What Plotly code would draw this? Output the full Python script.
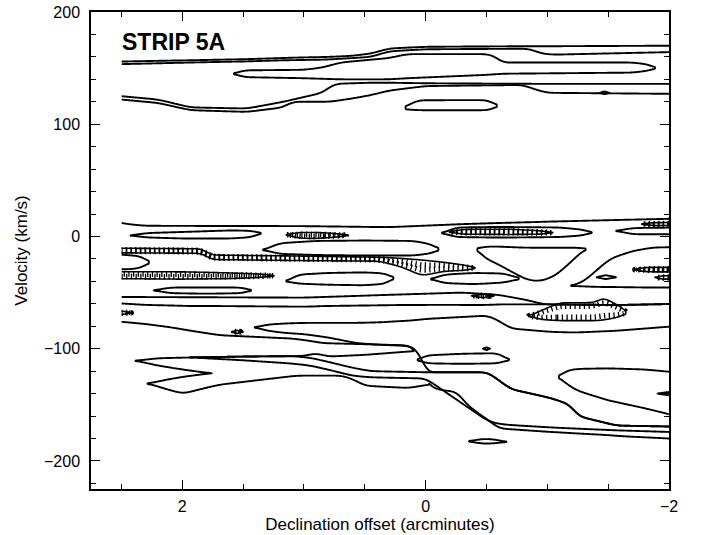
import numpy as np
import plotly.graph_objects as go

# ---------------- axis / data extent ----------------
X_RANGE = [2.75, -2.0]          # declination offset (arcmin), reversed
Y_RANGE = [-225, 200]           # velocity (km/s)
DATA_X = (-2.0, 2.5)            # extent of the mapped strip
X_TICKS = [2, 0, -2]
Y_TICKS = [-200, -100, 0, 100, 200]

# ---------------- emission features (read from the map) ----------------
# each feature: list of parts; part = x nodes, upper and lower velocity edge
band_a_outer = [dict(x=[2.6, 2.2, 1.93, 1.47, 1.17, 1.1, 0.79, 0.6, 0.45, 0.3, 0.0, -0.8, -0.9, -1.0, -2.1],
                     top=[155.6, 156.5, 157, 158, 159, 159.3, 160, 161, 163, 167.5, 169, 169.5, 169.5, 169.5, 170],
                     bot=[123, 119, 112.5, 111, 115, 120, 120, 123, 126, 130, 134, 135, 131, 128, 127])]
band_a_inner = [dict(x=[2.6, 2.2, 1.93, 1.47, 1.17, 0.85, 0.75, 0.45, 0.3, 0.0, -0.85, -0.95, -1.05, -2.1],
                     top=[153.3, 154.3, 155, 156, 157, 157.5, 158, 160, 165, 166.8, 167.3, 163, 162, 164.5],
                     bot=[126, 122, 115, 114, 120, 128, 136, 137, 137, 136.5, 136, 136, 136, 136])]
band_a_loop = [dict(x=[1.57, 1.5, 1.0, 0.85, 0.7, 0.3, 0.15, -0.5, -0.57, -0.62, -1.7, -1.85, -1.88],
                    top=[145, 148, 148.5, 150.5, 155, 159, 162.5, 162.5, 161, 155, 155, 153, 150],
                    bot=[145, 142, 141, 140.5, 140, 140, 141, 144, 144.5, 145, 146, 148, 150])]
band_a_box = [dict(x=[0.16, 0.12, 0.05, -0.5, -0.55, -0.58],
                   top=[115, 119, 121.4, 121.5, 120, 116.5],
                   bot=[113.5, 112.8, 112.5, 112.5, 113, 116.5])]
band_a_dot = [dict(x=[-1.43, -1.47, -1.51], top=[128, 129.2, 128], bot=[128, 126.8, 128])]

main_env = [dict(x=[2.6, 2.45, 2.3, 1.0, 0.3, -0.3, -0.6, -0.85, -0.95, -1.0, -1.5, -1.62, -2.1],
                 top=[14.3, 11, 9.5, 9.2, 8.3, 11, 12, 12.7, 13, 13.2, 14.5, 14.8, 16],
                 bot=[-54, -54, -54, -54.5, -52, -50, -52, -57, -60, -60.5, -61, -61, -60])]
main_s2 = [dict(x=[2.42, 2.3, 2.0, 1.6, 1.42, 1.36], top=[0.9, 3, 4, 5.4, 5, 3], bot=[0.9, -0.8, -1.8, -1.8, -0.5, 3])]
main_ring = [dict(x=[-0.14, -0.25, -0.6, -1.1, -1.3, -1.36], top=[3, 8, 8.5, 8, 6, 3.5], bot=[3, -0.5, -1, -0.5, 1, 3.5])]
main_right_oval = [dict(x=[-1.57, -1.7, -2.1], top=[5, 7.5, 8], bot=[5, 2, 2])]
main_s4 = [dict(x=[1.33, 1.2, 0.9, 0.5, 0.1, -0.05, -0.1], top=[-12, -6, -4, -3.6, -4, -7, -11],
                bot=[-12, -15.5, -16.5, -17, -17, -15, -12])]
main_left_lobe = [dict(x=[2.6, 2.4, 2.32, 2.28], top=[-15.5, -17, -18, -23], bot=[-29.5, -29, -27.5, -23])]
main_s5a = [dict(x=[1.14, 1.05, 0.8, 0.5, 0.32, 0.27], top=[-40, -34, -32.5, -32, -33, -37],
                 bot=[-40, -42, -43, -43.5, -42, -37])]
main_s5b = [dict(x=[-0.05, -0.15, -0.4, -0.65, -0.76], top=[-38, -34, -32.5, -33, -37],
                 bot=[-38, -41.5, -42.5, -41, -38])]
main_s6 = [dict(x=[2.23, 2.1, 1.8, 1.5, 1.44], top=[-48, -45.5, -45.5, -45.5, -48], bot=[-48, -50.5, -51, -50.5, -48])]
main_bowl = [dict(x=[-0.43, -0.46, -0.5, -0.6, -0.7, -0.82, -0.92, -1.0, -1.06, -1.12, -1.2, -1.27, -1.31],
                  top=[-11, -9.5, -9, -9, -9.5, -10, -10, -10, -10, -10, -10, -10, -11],
                  bot=[-11, -17, -20, -25, -31, -38, -40, -38, -35, -30, -22, -15, -11])]
main_right_lobe = [dict(x=[-1.2, -1.3, -1.43, -1.52, -1.7, -1.87, -2.1],
                        top=[-44, -40, -27.7, -19.6, -13, -9.8, -9.5],
                        bot=[-44, -44.5, -45, -45, -45.3, -45.5, -45.5])]
main_s7 = [dict(x=[-1.4, -1.48, -1.57], top=[-36.3, -34.5, -36.3], bot=[-36.3, -38, -36.3])]

# diagonal ridges of the lower complex
ridge_d1_x = [1.93, 1.5, 1.1, 0.95, 0.79, 0.6, 0.45, 0.0, -0.51, -0.6, -0.7, -1.03, -1.19, -1.25, -1.57, -2.1]
ridge_d1_v = [-107.8, -107, -106.6, -108, -112, -117, -120, -121, -121, -128, -136, -144, -150, -160, -168.5, -169.5]
ridge_d2_x = [1.93, 1.6, 1.28, 0.95, 0.68, 0.57, 0.45, 0.0, -0.15, -0.25, -0.35, -0.45, -0.55, -0.7, -1.0, -1.5, -2.1]
ridge_d2_v = [-107.8, -110, -111, -115, -121.6, -125, -125.5, -126.5, -133, -143, -153, -161, -166.5, -168, -170, -172.5, -174.5]

low_outer = [dict(x=[2.6, 2.3, 2.09, 1.93, 1.69, 1.09, 0.95, 0.85, 0.5, 0.15, 0.08, 0.0, -0.08, -0.28, -0.3,
                     -0.4, -0.52, -0.6, -1.0, -1.5, -1.62, -2.1],
                  top=[-59, -61, -61.5, -62, -62, -62.5, -62.5, -62, -61.5, -61, -61, -61, -61, -61, -61,
                       -61, -61, -60.5, -60.5, -61, -61, -60],
                  bot=[-75, -78, -81, -84, -88, -91, -93, -95, -96, -97, -100, -130, -136, -139, -146,
                       -155, -164, -171, -174, -177, -178, -180.5]),
             dict(x=[2.38, 2.2, 2.0, 1.79, 1.5, 1.0, 0.9, 0.8, 0.5, 0.08, -0.02],
                  top=[-110.7, -108.5, -108, -107.5, -107, -106.5, -104, -107, -105.5, -102, -102],
                  bot=[-110.7, -115, -118.5, -121.6, -122, -122, -122, -122, -122, -122, -122]),
             dict(x=[2.28, 2.1, 1.99, 1.85, 1.69, 1.06, 0.68, 0.57, 0.5, 0.14, -0.02],
                  top=[-131, -127, -125, -123, -121, -119, -118, -118, -115, -115, -118],
                  bot=[-131, -137, -140, -136, -132, -124, -124, -128.6, -133, -135, -132])]
low_mid = [dict(x=[1.4, 1.3, 1.15, 1.0, 0.8, 0.57, 0.38, 0.14, 0.08, 0.04] + ridge_d1_x[7:],
                top=[-81, -78.5, -77.5, -77, -77, -77, -76.5, -75, -74.5, -74, -73.5, -70.5, -75, -82,
                     -85, -85.5, -85.5, -84, -79.5],
                bot=[-81, -84, -86, -87, -90, -95, -96.5, -97.5, -99.5, -106] + ridge_d1_v[7:])]
low_diag = [dict(x=ridge_d1_x, top=ridge_d1_v,
                 bot=np.interp(ridge_d1_x[::-1], ridge_d2_x[::-1], ridge_d2_v[::-1])[::-1].tolist())]
low_ellipse = [dict(x=[0.06, 0.0, -0.3, -0.6, -0.68], top=[-110, -106, -104.5, -104, -110], bot=[-110, -113, -113.5, -113, -110])]
low_dot = [dict(x=[-0.47, -0.5, -0.53], top=[-100, -98.8, -100], bot=[-100, -101.2, -100])]
low_right_loop = [dict(x=[-1.1, -1.15, -1.25, -1.5, -1.8, -2.1], top=[-125, -119.5, -118, -117.5, -118.5, -121.5],
                       bot=[-125, -131, -137.5, -146, -153, -161])]
low_right_edge = [dict(x=[-1.9, -2.0, -2.1], top=[-140, -138.5, -138.5], bot=[-140, -141.5, -141.5])]
low_bottom = [dict(x=[-0.36, -0.45, -0.55, -0.66], top=[-182.5, -180.5, -180.5, -183], bot=[-182.5, -184.5, -184.5, -183])]

# negative (hatched) contours
neg_h1 = [dict(x=[2.6, 1.82, 1.78, 1.0, 0.38, 0.2, 0.03, -0.15, -0.35, -0.4],
               top=[-10.4, -11, -16.5, -17.5, -18.5, -19.5, -21, -23, -26, -28],
               bot=[-14.5, -15, -20.5, -21.5, -22, -27, -35, -31, -30, -28])]
neg_h2 = [dict(x=[2.6, 2.0, 1.6, 1.35, 1.25], top=[-31.5, -31.5, -32.5, -33.5, -35], bot=[-37.5, -38, -37.5, -36.5, -35])]
neg_h3 = [dict(x=[1.14, 1.05, 0.9, 0.72, 0.64], top=[1.5, 3.6, 3.6, 2.5, 1], bot=[1.5, -1.5, -1.8, -0.5, 1])]
neg_h4 = [dict(x=[-0.2, -0.3, -0.7, -0.95, -1.04], top=[4, 6.3, 6.5, 5, 3.5], bot=[4, 2, 1.8, 2, 3.5])]
neg_edge_top = [dict(x=[-1.78, -1.85, -2.1], top=[11, 12.3, 12.5], bot=[11, 9.8, 9.8])]
neg_h5 = [dict(x=[-1.72, -1.8, -2.1], top=[-29.5, -27.5, -27.5], bot=[-29.5, -31.5, -31.5])]
neg_h5b = [dict(x=[-1.88, -1.95, -2.1], top=[-36.5, -35, -35], bot=[-36.5, -38, -38])]
neg_h6 = [dict(x=[-0.85, -0.95, -1.1, -1.4, -1.47, -1.52, -1.6, -1.64],
               top=[-71, -66, -59, -59, -53, -59, -61, -68],
               bot=[-71, -74, -75, -75, -74.5, -73, -72, -68])]
neg_h7 = [dict(x=[-0.37, -0.47, -0.57], top=[-53, -51.5, -53], bot=[-53, -54.5, -53])]
neg_left = [dict(x=[2.6, 2.5, 2.4], top=[-66.5, -66.5, -68], bot=[-69.5, -69.5, -68])]
neg_h8 = [dict(x=[1.6, 1.55, 1.5], top=[-85, -83.6, -85], bot=[-85, -86.4, -85])]

POSITIVE = [band_a_outer, band_a_inner, band_a_loop, band_a_box, band_a_dot,
            main_env, main_s2, main_ring, main_right_oval, main_s4, main_left_lobe,
            main_s5a, main_s5b, main_s6, main_bowl, main_right_lobe, main_s7,
            low_outer, low_mid, low_diag, low_ellipse, low_dot, low_right_loop,
            low_right_edge, low_bottom]
NEGATIVE = [neg_h1, neg_h2, neg_h3, neg_h4, neg_edge_top, neg_h5, neg_h5b, neg_h6,
            neg_h7, neg_left, neg_h8]

PX_PER_KMS = 477 / (Y_RANGE[1] - Y_RANGE[0])


def smooth(arr, n=5):
    if n <= 1 or len(arr) < 3:
        return arr
    k = np.exp(-0.5 * (np.arange(-2 * n, 2 * n + 1) / n) ** 2)
    k /= k.sum()
    pad = np.pad(arr, 2 * n, mode="edge")
    return np.convolve(pad, k, mode="valid")


def feature_grid(parts, dx=0.01, dv=0.35):
    xs_all = np.concatenate([np.asarray(p["x"], float) for p in parts])
    tops = np.concatenate([np.asarray(p["top"], float) for p in parts])
    bots = np.concatenate([np.asarray(p["bot"], float) for p in parts])
    x0 = max(xs_all.min() - 0.04, DATA_X[0])
    x1 = min(xs_all.max() + 0.04, DATA_X[1])
    xs = np.arange(x0, x1 + dx / 2, dx)
    vs = np.arange(bots.min() - 4, tops.max() + 4, dv)
    X, V = np.meshgrid(xs, vs)
    z = np.zeros_like(X)
    halves = []
    for p in parts:
        px = np.asarray(p["x"], float)
        order = np.argsort(px)
        px = px[order]
        pt = np.asarray(p["top"], float)[order]
        pb = np.asarray(p["bot"], float)[order]
        span = px.max() - px.min()
        fine = np.arange(px.min(), px.max() + 1e-9, dx)
        n = 4 if span > 0.3 else 1
        ft = smooth(np.interp(fine, px, pt), n)
        fb = smooth(np.interp(fine, px, pb), n)
        top = np.interp(xs, fine, ft)
        bot = np.interp(xs, fine, fb)
        mid = (top + bot) / 2
        half = np.maximum((top - bot) / 2, 0.05)
        halves.append(np.median((pt - pb) / 2))
        u = (V - mid[None, :]) / half[None, :]
        zp = 1.0 / (1.0 + u ** 4)
        inside = (xs >= px.min() - 1e-9) & (xs <= px.max() + 1e-9)
        zp[:, ~inside] = 0.0
        z = np.maximum(z, zp)
    return xs, vs, np.round(z, 3), max(halves)


fig = go.Figure()


def add_contour(xs, vs, z, level, width, dash="solid"):
    fig.add_trace(go.Contour(
        x=xs, y=vs, z=z, showscale=False, hoverinfo="skip",
        autocontour=False,
        contours=dict(start=level, end=level, size=1, coloring="none"),
        line=dict(color="black", width=width, dash=dash, smoothing=1.0),
    ))


for feat in POSITIVE:
    xs, vs, z, _ = feature_grid(feat)
    add_contour(xs, vs, z, 0.5, 1.9)

for feat in NEGATIVE:
    xs, vs, z, half = feature_grid(feat)
    add_contour(xs, vs, z, 0.5, 1.6)
    half_px = half * PX_PER_KMS
    ut = max(0.35, 1 - 2.7 / max(half_px, 0.1))
    level_t = 1.0 / (1.0 + ut ** 4)
    add_contour(xs, vs, z, round(level_t, 3), 5.5, dash="1.3px,3.4px")

axis_font = dict(family="Liberation Sans, Arial, sans-serif", size=17, color="black")
tick_font = dict(family="Liberation Sans, Arial, sans-serif", size=16, color="black")
fig.update_layout(
    width=704, height=535,
    margin=dict(l=91, r=35, t=12, b=46),
    paper_bgcolor="white", plot_bgcolor="white",
    showlegend=False,
    font=tick_font,
    xaxis=dict(range=X_RANGE, tickvals=X_TICKS, ticktext=["2", "0", "\u22122"],
               ticks="inside", ticklen=9, tickwidth=1.2, tickcolor="black", tickfont=tick_font,
               showline=True, linecolor="black", linewidth=1.5, mirror="ticks",
               showgrid=False, zeroline=False, automargin=False, ticklabelstandoff=2,
               minor=dict(dtick=0.5, ticks="inside", ticklen=5, tickcolor="black", tickwidth=1),
               title=dict(text="Declination offset (arcminutes)", font=axis_font, standoff=0)),
    yaxis=dict(range=Y_RANGE, tickvals=Y_TICKS, ticktext=["\u2212200", "\u2212100", "0", "100", "200"],
               ticks="inside", ticklen=9, tickwidth=1.2, tickcolor="black", tickfont=tick_font,
               showline=True, linecolor="black", linewidth=1.5, mirror="ticks",
               showgrid=False, zeroline=False, automargin=False, ticklabelstandoff=6,
               minor=dict(dtick=20, ticks="inside", ticklen=5, tickcolor="black", tickwidth=1),
               title=dict(text="Velocity (km/s)", font=axis_font, standoff=12)),
    annotations=[dict(text="<b>STRIP 5A</b>", x=2.51, y=173, xref="x", yref="y",
                      xanchor="left", yanchor="middle", showarrow=False,
                      font=dict(family="Liberation Sans, Arial, sans-serif", size=23, color="black"))],
)

fig.write_html("out.html")
